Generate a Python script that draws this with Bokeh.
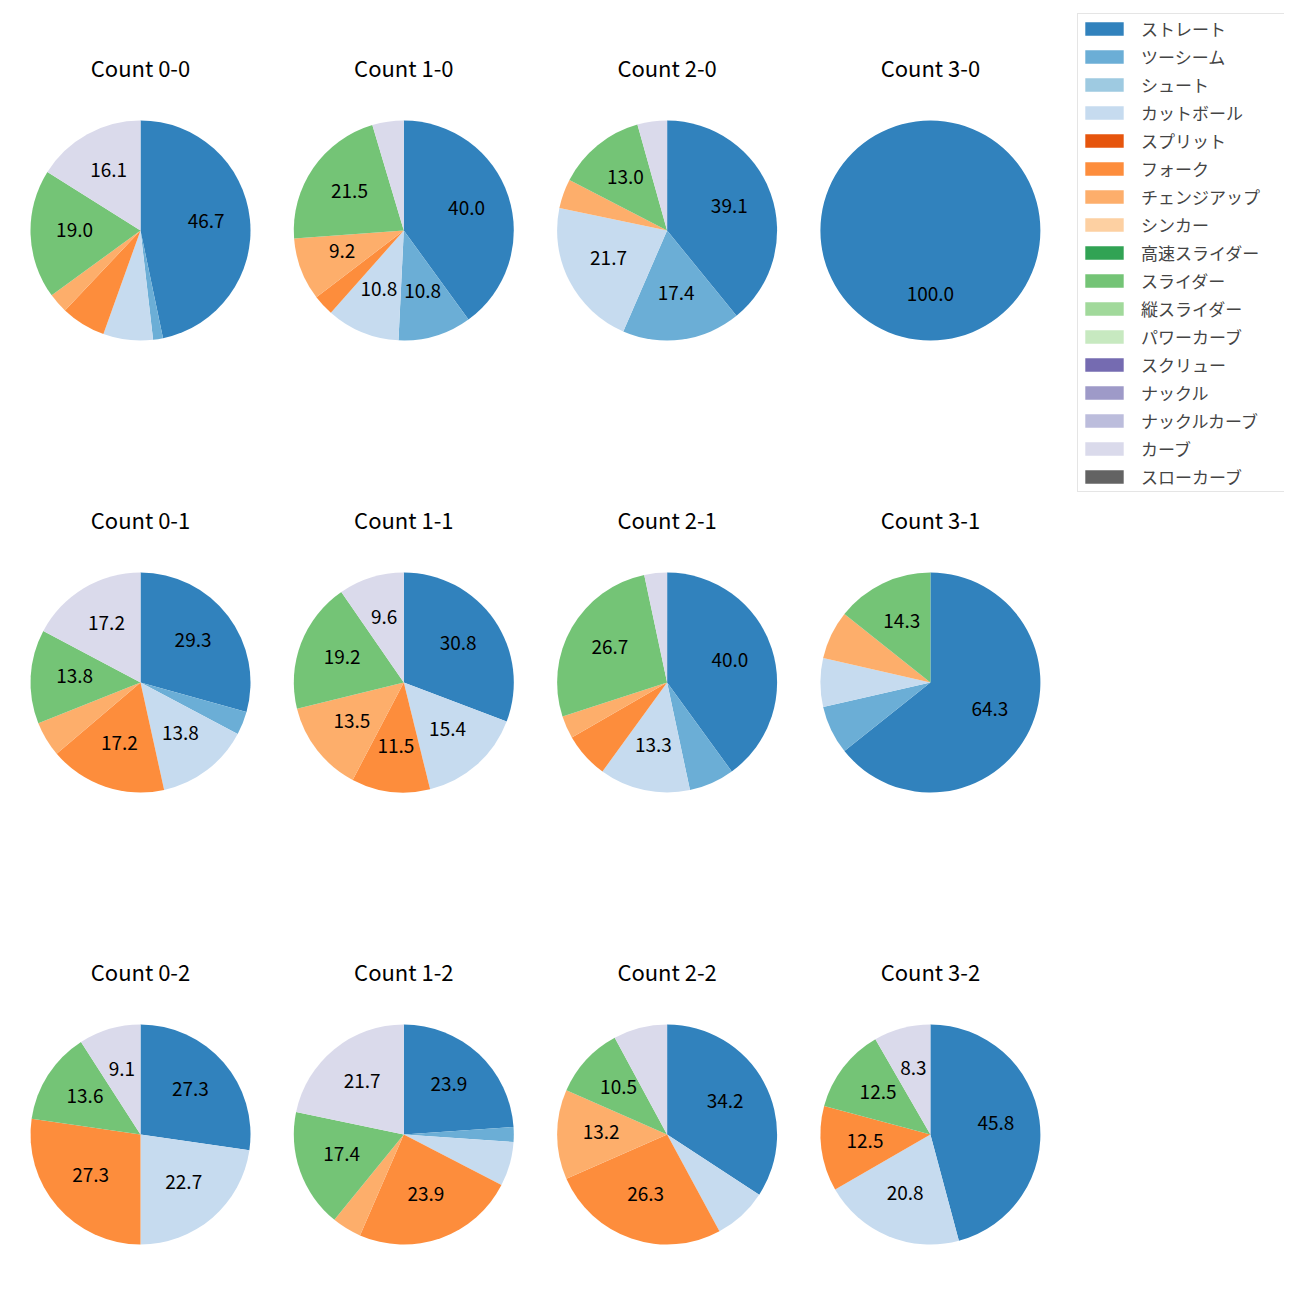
import math
from bokeh.plotting import figure
from bokeh.models import ColumnDataSource, Range1d, Legend, LegendItem
from bokeh.core.properties import value
from bokeh.embed import file_html
from bokeh.resources import INLINE

# ---------------- data ----------------
pitch_types = ["ストレート", "ツーシーム", "シュート", "カットボール", "スプリット", "フォーク",
               "チェンジアップ", "シンカー", "高速スライダー", "スライダー", "縦スライダー",
               "パワーカーブ", "スクリュー", "ナックル", "ナックルカーブ", "カーブ", "スローカーブ"]
pitch_colors = ["#3182bd", "#6baed6", "#9ecae1", "#c6dbef", "#e6550d", "#fd8d3c", "#fdae6b",
                "#fdd0a2", "#31a354", "#74c476", "#a1d99b", "#c7e9c0", "#756bb1", "#9e9ac8",
                "#bcbddc", "#dadaeb", "#636363"]

count_labels = ["0-0", "1-0", "2-0", "3-0",
                "0-1", "1-1", "2-1", "3-1",
                "0-2", "1-2", "2-2", "3-2"]

#        St Tw Sh Ct Sp Fk Ch Si HS Sl VS PC Sc Kn KC Cv SC
c_0_0 = [64, 2, 0, 10, 0, 9, 4, 0, 0, 26, 0, 0, 0, 0, 0, 22, 0]
c_1_0 = [26, 7, 0, 7, 0, 2, 6, 0, 0, 14, 0, 0, 0, 0, 0, 3, 0]
c_2_0 = [9, 4, 0, 5, 0, 0, 1, 0, 0, 3, 0, 0, 0, 0, 0, 1, 0]
c_3_0 = [1, 0, 0, 0, 0, 0, 0, 0, 0, 0, 0, 0, 0, 0, 0, 0, 0]
c_0_1 = [17, 2, 0, 8, 0, 10, 3, 0, 0, 8, 0, 0, 0, 0, 0, 10, 0]
c_1_1 = [16, 0, 0, 8, 0, 6, 7, 0, 0, 10, 0, 0, 0, 0, 0, 5, 0]
c_2_1 = [12, 2, 0, 4, 0, 2, 1, 0, 0, 8, 0, 0, 0, 0, 0, 1, 0]
c_3_1 = [9, 1, 0, 1, 0, 0, 1, 0, 0, 2, 0, 0, 0, 0, 0, 0, 0]
c_0_2 = [6, 0, 0, 5, 0, 6, 0, 0, 0, 3, 0, 0, 0, 0, 0, 2, 0]
c_1_2 = [11, 1, 0, 3, 0, 11, 2, 0, 0, 8, 0, 0, 0, 0, 0, 10, 0]
c_2_2 = [13, 0, 0, 3, 0, 10, 5, 0, 0, 4, 0, 0, 0, 0, 0, 3, 0]
c_3_2 = [11, 0, 0, 5, 0, 3, 0, 0, 0, 3, 0, 0, 0, 0, 0, 2, 0]

count_values = [c_0_0, c_1_0, c_2_0, c_3_0,
                c_0_1, c_1_1, c_2_1, c_3_1,
                c_0_2, c_1_2, c_2_2, c_3_2]

# ---------------- layout ----------------
SIZE = 1300
R = 110
COL_X0, COL_DX = 140, 263.3
ROW_Y0, ROW_DY = 230, 452
TITLE_OFF = 164
LABEL_DY = 2.5
FONT = "Noto Sans CJK JP"

p = figure(width=1284, height=1284, output_backend="svg", toolbar_location=None,
           x_range=Range1d(0, 1284), y_range=Range1d(16, 1300),
           min_border=0, outline_line_color=None)
p.axis.visible = False
p.grid.visible = False

wedge_data = {i: dict(x=[], y=[], r=[], s=[], e=[]) for i in range(len(pitch_types))}
lab = dict(x=[], y=[], t=[])
tit = dict(x=[], y=[], t=[])

for k, (lbl, vals) in enumerate(zip(count_labels, count_values)):
    b, s = int(lbl[0]), int(lbl[2])
    cx = COL_X0 + COL_DX * b
    cy = SIZE - (ROW_Y0 + ROW_DY * s)
    tit["x"].append(cx)
    tit["y"].append(cy + TITLE_OFF)
    tit["t"].append("Count " + lbl)
    total = float(sum(vals))
    cum = 0.0
    for i, v in enumerate(vals):
        if v <= 0:
            continue
        f0 = cum / total
        f1 = (cum + v) / total
        cum += v
        a_start = math.radians(90 - 360 * f1)
        a_end = math.radians(90 - 360 * f0)
        if f1 - f0 >= 0.999999:
            a_start += 1e-4
        wedge_data[i]["x"].append(cx)
        wedge_data[i]["y"].append(cy)
        wedge_data[i]["r"].append(R)
        wedge_data[i]["s"].append(a_start)
        wedge_data[i]["e"].append(a_end)
        pct = 100.0 * v / total
        if pct >= 8:
            mid = math.radians(90 - 360 * (f0 + f1) / 2)
            lab["x"].append(cx + 0.6 * R * math.cos(mid))
            lab["y"].append(cy + 0.6 * R * math.sin(mid) + LABEL_DY)
            lab["t"].append(f"{pct:.1f}")

items = []
for i, name in enumerate(pitch_types):
    d = wedge_data[i]
    if not d["x"]:
        # invisible placeholder so that the legend still shows the swatch
        d.update(x=[1200], y=[100], r=[0], s=[0.0], e=[0.1])
    src = ColumnDataSource(d)
    r = p.wedge(x="x", y="y", radius="r", start_angle="s", end_angle="e",
                direction="anticlock", source=src,
                fill_color=pitch_colors[i], line_color=None)
    items.append(LegendItem(label=name, renderers=[r], index=0))

p.text(x="x", y="y", text="t", source=ColumnDataSource(lab),
       text_font=value(FONT), text_font_size="19px", text_color="#000000",
       text_align="center", text_baseline="middle")
p.text(x="x", y="y", text="t", source=ColumnDataSource(tit),
       text_font=value(FONT), text_font_size="22px", text_color="#000000",
       text_align="center", text_baseline="middle")

legend = Legend(items=items, location=(1077, 792),
                label_text_font=FONT, label_text_font_size="17px",
                glyph_width=48, glyph_height=17, label_height=25, label_width=142,
                label_standoff=13, spacing=3, padding=2, margin=0,
                border_line_color="#cccccc", border_line_width=1,
                background_fill_color="white", background_fill_alpha=0.8)
p.add_layout(legend)

open("out.html", "w").write(file_html(p, INLINE))
